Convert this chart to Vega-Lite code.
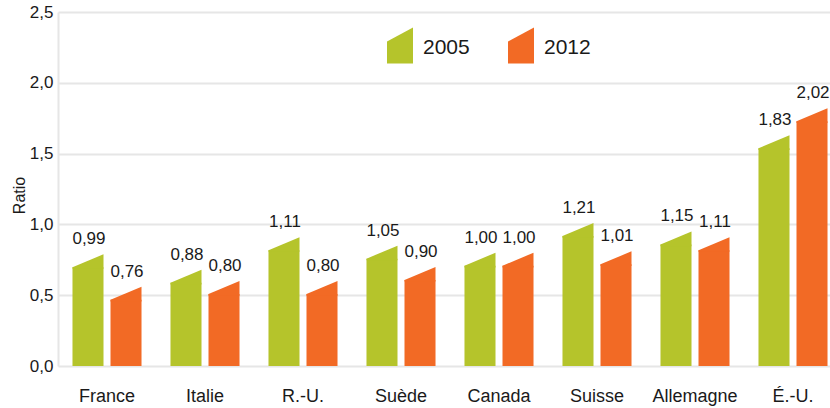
{
  "$schema": "https://vega.github.io/schema/vega-lite/v6.json",
  "width": 784,
  "height": 354,
  "autosize": {"type": "none"},
  "padding": {"left": 58, "top": 12, "right": -12, "bottom": 42},
  "config": {
    "locale": {"number": {"decimal": ",", "thousands": " ", "grouping": [3], "currency": ["", " €"]}},
    "view": {"stroke": null},
    "font": "Liberation Sans",
    "axis": {"labelFont": "Liberation Sans", "titleFont": "Liberation Sans", "labelColor": "#1a1a1a", "titleColor": "#1a1a1a"}
  },
  "data": {
    "values": [
      {"pays": "France", "annee": "2005", "valeur": 0.99},
      {"pays": "France", "annee": "2012", "valeur": 0.76},
      {"pays": "Italie", "annee": "2005", "valeur": 0.88},
      {"pays": "Italie", "annee": "2012", "valeur": 0.80},
      {"pays": "R.-U.", "annee": "2005", "valeur": 1.11},
      {"pays": "R.-U.", "annee": "2012", "valeur": 0.80},
      {"pays": "Suède", "annee": "2005", "valeur": 1.05},
      {"pays": "Suède", "annee": "2012", "valeur": 0.90},
      {"pays": "Canada", "annee": "2005", "valeur": 1.00},
      {"pays": "Canada", "annee": "2012", "valeur": 1.00},
      {"pays": "Suisse", "annee": "2005", "valeur": 1.21},
      {"pays": "Suisse", "annee": "2012", "valeur": 1.01},
      {"pays": "Allemagne", "annee": "2005", "valeur": 1.15},
      {"pays": "Allemagne", "annee": "2012", "valeur": 1.11},
      {"pays": "É.-U.", "annee": "2005", "valeur": 1.83},
      {"pays": "É.-U.", "annee": "2012", "valeur": 2.02}
    ]
  },
  "layer": [
    {
      "mark": {"type": "rule", "opacity": 0},
      "encoding": {
        "y": {
          "datum": 0,
          "type": "quantitative",
          "scale": {"domain": [0, 2.5], "nice": false, "zero": true},
          "axis": {
            "values": [0, 0.5, 1, 1.5, 2, 2.5],
            "format": ".1f",
            "grid": true,
            "gridColor": "#e6e6e6",
            "gridWidth": 2,
            "domain": true,
            "domainColor": "#e6e6e6",
            "domainWidth": 2,
            "ticks": false,
            "labelFontSize": 17,
            "labelPadding": 5,
            "title": "Ratio",
            "titleFontSize": 16,
            "titleFontWeight": "normal",
            "titleX": -34,
            "titleY": 183,
            "titleAngle": -90,
            "titleAlign": "center",
            "titleBaseline": "alphabetic"
          }
        }
      }
    },
    {
      "encoding": {
        "x": {
          "field": "pays",
          "type": "nominal",
          "sort": null,
          "scale": {"paddingInner": 0, "paddingOuter": 0, "align": 0},
          "axis": {"title": null, "ticks": false, "domain": false, "grid": false, "labelAngle": 0, "labelFontSize": 18, "labelPadding": 35, "labelBaseline": "alphabetic"}
        },
        "xOffset": {"field": "annee", "type": "nominal", "scale": {"paddingInner": 0.184, "paddingOuter": 0.381}},
        "y": {"field": "valeur", "type": "quantitative", "scale": {"domain": [0.2, 2.7], "nice": false, "zero": false}, "axis": null},
        "color": {
          "field": "annee",
          "type": "nominal",
          "scale": {"domain": ["2005", "2012"], "range": ["#b5c42b", "#f26a25"]},
          "legend": {
            "title": null,
            "orient": "none",
            "legendX": 329,
            "legendY": 23,
            "direction": "horizontal",
            "symbolType": "M-1,-0.54L1,-1.615L1,1.155L-1,1.155Z",
            "symbolSize": 676,
            "symbolStrokeWidth": 0,
            "symbolOpacity": 1,
            "labelFontSize": 21,
            "labelFont": "Liberation Sans",
            "labelColor": "#1a1a1a",
            "labelOffset": 10,
            "labelBaseline": "middle",
            "columnPadding": 38,
            "padding": 0
          }
        }
      },
      "layer": [
        {"mark": {"type": "bar", "yOffset": 13}, "encoding": {"y2": {"datum": 0.2}}},
        {"mark": {"type": "point", "filled": true, "opacity": 1, "size": 961, "shape": "M-1,0.839L1,0L1,0.95L-1,0.95Z", "strokeWidth": 0}},
        {
          "mark": {"type": "text", "fontSize": 17, "baseline": "alphabetic", "dy": -10, "dx": 1},
          "encoding": {
            "text": {"field": "valeur", "type": "quantitative", "format": ".2f"},
            "color": {"value": "#1a1a1a"}
          }
        }
      ]
    }
  ],
  "resolve": {"scale": {"y": "independent"}}
}
